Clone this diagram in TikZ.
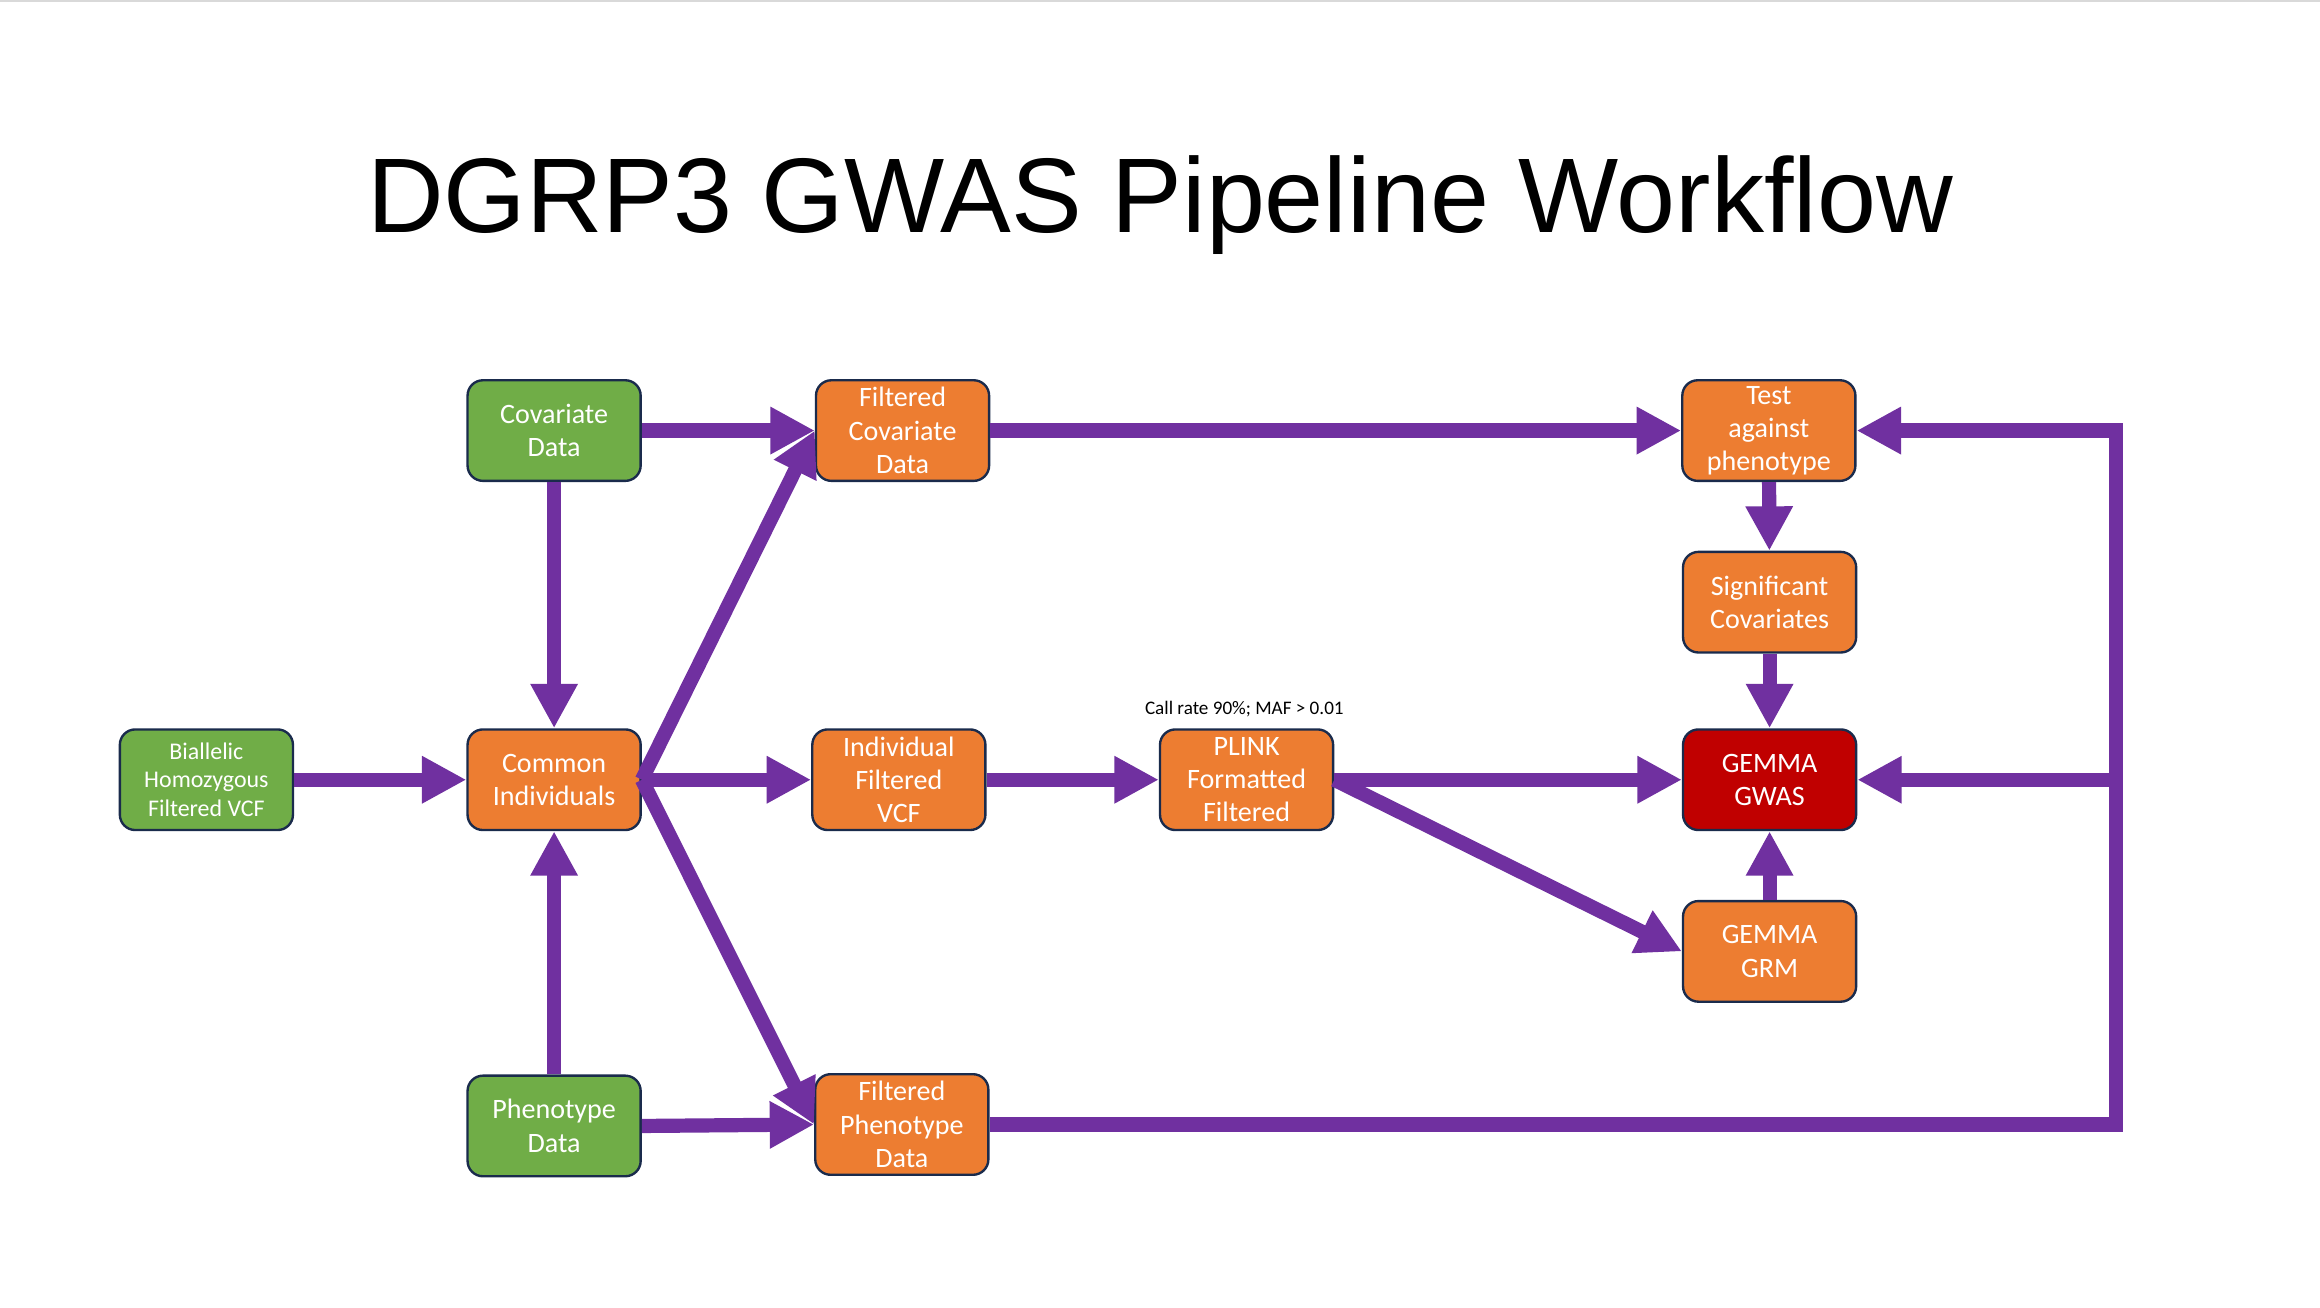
\documentclass[tikz,border=0pt]{standalone}
\usepackage{fontspec}
\setmainfont{Liberation Sans}
\newfontfamily\carlito{Carlito}
\usetikzlibrary{arrows.meta}
\definecolor{cgreen}{HTML}{70AD47}
\definecolor{corange}{HTML}{ED7D31}
\definecolor{cred}{HTML}{C00000}
\definecolor{cpurple}{HTML}{7030A0}
\definecolor{cnavy}{HTML}{1A2B4C}
\definecolor{cgray}{HTML}{D9D9D9}
\tikzset{
  box/.style={draw=cnavy, line width=0.4mm, rounded corners=2.6mm,
    minimum width=29.25mm, minimum height=17mm, inner sep=0pt,
    text=white, align=center, font=\carlito\fontsize{13.5}{16}\selectfont},
  gbox/.style={box, fill=cgreen},
  obox/.style={box, fill=corange},
  rbox/.style={box, fill=cred},
  arr/.style={draw=cpurple, line width=2.4mm,
    -{Triangle[length=7.5mm,width=7.5mm]}},
  plain/.style={draw=cpurple, line width=2.4mm}
}
\begin{document}
\begin{tikzpicture}[x=0.25mm, y=-0.25mm]
\useasboundingbox (0,0) rectangle (1568,884);
\fill[white] (0,0) rectangle (1568,884);
\draw[cgray, line width=0.3mm] (0,0.6) -- (1568,0.6);

\node[anchor=base, font=\fontsize{51}{60}\selectfont] (title) at (784,157) {DGRP3 GWAS Pipeline Workflow};

\node[gbox] (cov) at (374.5,291) {Covariate\\Data};
\node[gbox, font=\carlito\fontsize{11.5}{13.6}\selectfont] (bial) at (139.5,527) {Biallelic\\Homozygous\\Filtered VCF};
\node[obox] (common) at (374.5,527) {Common\\Individuals};
\node[gbox] (phen) at (374.5,761) {Phenotype\\Data};
\node[obox] (fcov) at (610,291) {Filtered\\Covariate\\Data};
\node[obox] (ivcf) at (607.5,527) {Individual\\Filtered\\VCF};
\node[obox] (fphen) at (609.5,760) {Filtered\\Phenotype\\Data};
\node[obox] (plink) at (842.5,527) {PLINK\\Formatted\\Filtered};
\node[obox] (test) at (1195.5,291) {Test\\against\\phenotype};
\node[obox] (sig) at (1196,407) {Significant\\Covariates};
\node[rbox] (gwas) at (1196,527) {GEMMA\\GWAS};
\node[obox] (grm) at (1196,643) {GEMMA\\GRM};
\node[anchor=base, font=\carlito\fontsize{9.2}{11}\selectfont] (lbl) at (841,482.6) {Call rate 90\%; MAF > 0.01};

\coordinate (rtop) at (1430,291);
\coordinate (rmid) at (1430,527);

\draw[arr] (cov) -- (common);
\draw[arr] (phen) -- (common);
\draw[arr] (bial) -- (common);
\draw[arr] (cov.east) -- (fcov.west);
\draw[arr] (phen.east) -- (fphen.west);
\draw[arr] (common.east) -- (fcov.west);
\draw[arr] (common.east) -- (fphen.west);
\draw[arr] (common.east) -- (ivcf.west);
\draw[arr] (ivcf) -- (plink);
\draw[arr] (plink.east) -- (gwas.west);
\draw[arr] (plink.east) -- (grm.west);
\draw[arr] (fcov.east) -- (test.west);
\draw[arr] (test) -- (sig);
\draw[arr] (sig) -- (gwas);
\draw[arr] (grm) -- (gwas);
\draw[arr] (fphen.east) -| (rtop) -- (test.east);
\draw[arr] (rmid) -- (gwas.east);
\end{tikzpicture}
\end{document}
